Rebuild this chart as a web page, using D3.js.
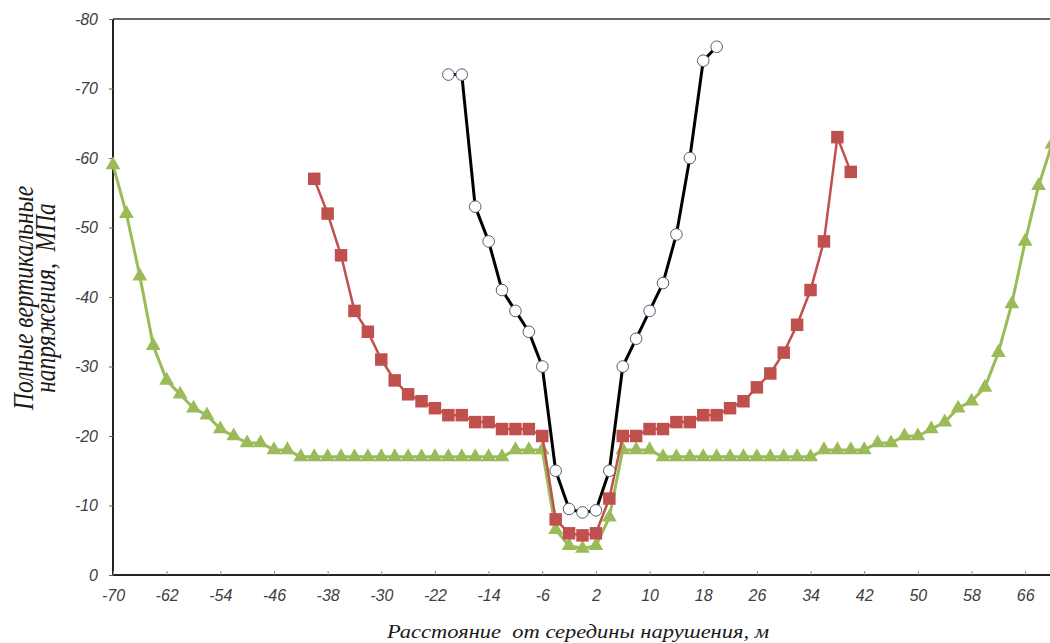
<!DOCTYPE html>
<html>
<head>
<meta charset="utf-8">
<script src="https://cdn.jsdelivr.net/npm/d3@7"></script>
<style>
  html, body { margin: 0; padding: 0; background: #fff; }
  svg { display: block; }
  text { white-space: pre; }
</style>
</head>
<body>
<svg id="chart" width="1050" height="643"></svg>
<script>
// ---- Data ----
const xTicks = [-70, -62, -54, -46, -38, -30, -22, -14, -6, 2, 10, 18, 26, 34, 42, 50, 58, 66];
const yTicks = [0, -10, -20, -30, -40, -50, -60, -70, -80];

const distGreen = [-70,-68,-66,-64,-62,-60,-58,-56,-54,-52,-50,-48,-46,-44,-42,-40,-38,-36,-34,-32,-30,-28,-26,-24,-22,-20,-18,-16,-14,-12,-10,-8,-6,-4,-2,0,2,4,6,8,10,12,14,16,18,20,22,24,26,28,30,32,34,36,38,40,42,44,46,48,50,52,54,56,58,60,62,64,66,68,70];
const stressGreen = [-59,-52,-43,-33,-28,-26,-24,-23,-21,-20,-19,-19,-18,-18,-17,-17,-17,-17,-17,-17,-17,-17,-17,-17,-17,-17,-17,-17,-17,-17,-18,-18,-18,-6.5,-4.2,-3.8,-4.2,-8.3,-18,-18,-18,-17,-17,-17,-17,-17,-17,-17,-17,-17,-17,-17,-17,-18,-18,-18,-18,-19,-19,-20,-20,-21,-22,-24,-25,-27,-32,-39,-48,-56,-62];

const distRed = [-40,-38,-36,-34,-32,-30,-28,-26,-24,-22,-20,-18,-16,-14,-12,-10,-8,-6,-4,-2,0,2,4,6,8,10,12,14,16,18,20,22,24,26,28,30,32,34,36,38,40];
const stressRed = [-57,-52,-46,-38,-35,-31,-28,-26,-25,-24,-23,-23,-22,-22,-21,-21,-21,-20,-8,-6,-5.7,-6,-11,-20,-20,-21,-21,-22,-22,-23,-23,-24,-25,-27,-29,-32,-36,-41,-48,-63,-58];

const distBlack = [-20,-18,-16,-14,-12,-10,-8,-6,-4,-2,0,2,4,6,8,10,12,14,16,18,20];
const stressBlack = [-72,-72,-53,-48,-41,-38,-35,-30,-15,-9.5,-9,-9.3,-15,-30,-34,-38,-42,-49,-60,-74,-76];

const xTitle = "Расстояние  от середины нарушения, м";
const yTitle1 = "Полные вертикальные";
const yTitle2 = "напряжения,  МПа";

// ---- Layout ----
const svg = d3.select("#chart");
const mLeft = 113, mRight = 1052, mTop = 19, mBottom = 575;

const x = d3.scaleLinear().domain([-70, 70]).range([mLeft, mRight]);
const y = d3.scaleLinear().domain([0, -80]).range([mBottom, mTop]);

// top border
svg.append("line").attr("x1", mLeft).attr("x2", 1050).attr("y1", mTop).attr("y2", mTop)
  .attr("stroke", "#333").attr("stroke-width", 1.5);

const tickFont = "Liberation Sans, Arial, sans-serif";
const titleFont = "Liberation Serif, Times New Roman, serif";

// Y axis
const yAxis = svg.append("g").attr("transform", `translate(${mLeft},0)`)
  .call(d3.axisLeft(y).tickValues(yTicks).tickSize(4).tickPadding(11).tickFormat(d => String(d)));
yAxis.select(".domain").attr("stroke", "#222").attr("stroke-width", 2).attr("d", `M0,${mTop}V${mBottom}`);
yAxis.selectAll(".tick line").attr("stroke", "#666");
yAxis.selectAll("text").attr("font-family", tickFont).attr("font-style", "italic")
  .attr("font-size", 16).attr("fill", "#404040");

// X axis
const xAxis = svg.append("g").attr("transform", `translate(0,${mBottom})`)
  .call(d3.axisBottom(x).tickValues(xTicks).tickSizeInner(-4).tickSizeOuter(0).tickPadding(15).tickFormat(d => String(d)));
xAxis.select(".domain").attr("stroke", "#222").attr("stroke-width", 2).attr("d", `M${mLeft},0H1050`);
xAxis.selectAll(".tick line").attr("stroke", "#888");
xAxis.selectAll("text").attr("font-family", tickFont).attr("font-style", "italic")
  .attr("font-size", 16).attr("fill", "#404040");

// Titles (glyphs slightly widened, as in the reference)
svg.append("g").attr("transform", "translate(578,638) scale(1.25,1)")
  .append("text").attr("x", 0).attr("y", 0).attr("text-anchor", "middle")
  .attr("font-family", titleFont).attr("font-style", "italic")
  .attr("font-size", 18).attr("fill", "#1a1a1a").text(xTitle);

const yt = svg.append("g").attr("transform", "translate(0,298) rotate(-90) scale(1,1.25)");
yt.append("text").attr("x", 0).attr("y", 33.5 / 1.25).attr("text-anchor", "middle")
  .attr("font-family", titleFont).attr("font-style", "italic")
  .attr("font-size", 23.5).attr("fill", "#1a1a1a").text(yTitle1);
yt.append("text").attr("x", 0).attr("y", 55.5 / 1.25).attr("text-anchor", "middle")
  .attr("font-family", titleFont).attr("font-style", "italic")
  .attr("font-size", 23.5).attr("fill", "#1a1a1a").text(yTitle2);

// ---- Series ----
const line = d3.line().x(d => x(d[0])).y(d => y(d[1]));

function zip(a, b) { return a.map((v, i) => [v, b[i]]); }

const green = zip(distGreen, stressGreen);
const red = zip(distRed, stressRed);
const black = zip(distBlack, stressBlack);

// Green
svg.append("path").datum(green).attr("d", line).attr("fill", "none")
  .attr("stroke", "#9bbb59").attr("stroke-width", 3).attr("stroke-linejoin", "round");
svg.append("g").selectAll("path").data(green).join("path")
  .attr("transform", d => `translate(${x(d[0])},${y(d[1])})`)
  .attr("d", d3.symbol(d3.symbolTriangle, 95)())
  .attr("fill", "#9bbb59");

// Red
svg.append("path").datum(red).attr("d", line).attr("fill", "none")
  .attr("stroke", "#c0504d").attr("stroke-width", 2.5).attr("stroke-linejoin", "round");
svg.append("g").selectAll("path").data(red).join("path")
  .attr("transform", d => `translate(${x(d[0])},${y(d[1])})`)
  .attr("d", d3.symbol(d3.symbolSquare, 156)())
  .attr("fill", "#c0504d");

// Black
svg.append("path").datum(black).attr("d", line).attr("fill", "none")
  .attr("stroke", "#000").attr("stroke-width", 3).attr("stroke-linejoin", "round");
svg.append("g").selectAll("circle").data(black).join("circle")
  .attr("cx", d => x(d[0])).attr("cy", d => y(d[1])).attr("r", 5.8)
  .attr("fill", "#fff").attr("stroke", "#4f5f70").attr("stroke-width", 1);
</script>
</body>
</html>
